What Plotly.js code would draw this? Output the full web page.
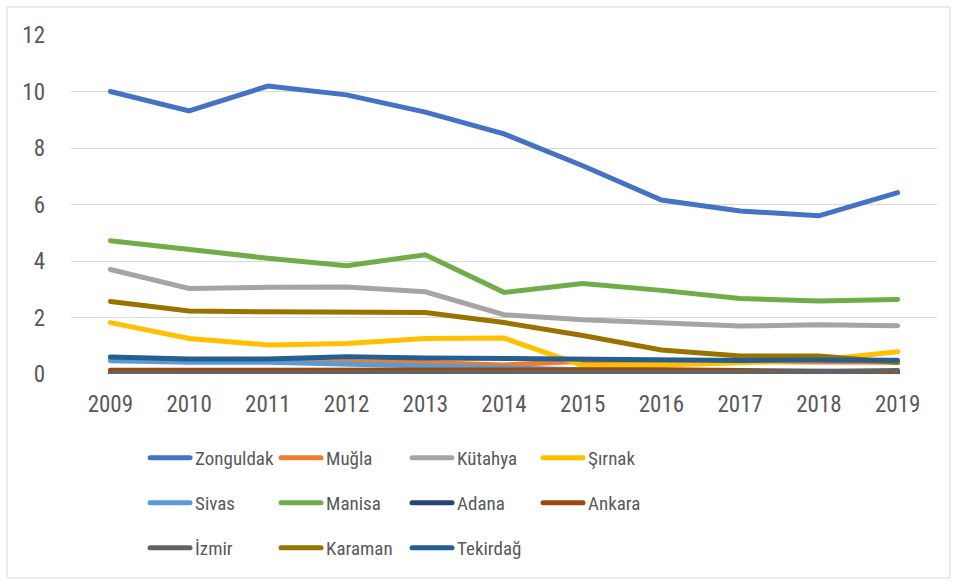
<!DOCTYPE html>
<html>
<head>
<meta charset="utf-8">
<script src="https://cdn.plot.ly/plotly-3.0.1.min.js"></script>
<style>
  html, body { margin: 0; padding: 0; background: #fff; }
  #chart { width: 956px; height: 581px; }
  .js-line { stroke-linecap: round; }
</style>
</head>
<body>
<div id="chart"></div>
<script>
const years = ["2009","2010","2011","2012","2013","2014","2015","2016","2017","2018","2019"];

const zonguldak = [10.0, 9.31, 10.19, 9.88, 9.27, 8.5, 7.37, 6.16, 5.77, 5.6, 6.42];
const mugla     = [0.5, 0.48, 0.48, 0.46, 0.41, 0.32, 0.45, 0.45, 0.45, 0.46, 0.42];
const kutahya   = [3.7, 3.03, 3.07, 3.08, 2.91, 2.1, 1.92, 1.8, 1.7, 1.74, 1.71];
const sirnak    = [1.82, 1.26, 1.03, 1.08, 1.26, 1.27, 0.3, 0.32, 0.4, 0.5, 0.79];
const sivas     = [0.47, 0.42, 0.42, 0.35, 0.28, 0.2, 0.15, 0.12, 0.1, 0.1, 0.1];
const manisa    = [4.72, 4.4, 4.1, 3.83, 4.22, 2.89, 3.2, 2.96, 2.67, 2.58, 2.64];
const adana     = [0.0, 0.0, 0.0, 0.0, 0.0, 0.01, 0.01, 0.01, 0.01, 0.0, 0.02];
const ankara    = [0.13, 0.13, 0.13, 0.13, 0.15, 0.16, 0.17, 0.15, 0.12, 0.08, 0.05];
const izmir     = [0.03, 0.03, 0.03, 0.03, 0.04, 0.05, 0.05, 0.06, 0.07, 0.08, 0.12];
const karaman   = [2.57, 2.23, 2.2, 2.18, 2.18, 1.82, 1.36, 0.85, 0.64, 0.64, 0.41];
const tekirdag  = [0.6, 0.53, 0.53, 0.61, 0.57, 0.54, 0.5, 0.47, 0.48, 0.5, 0.49];

const seriesNames = ["Zonguldak","Muğla","Kütahya","Şırnak","Sivas","Manisa","Adana","Ankara","İzmir","Karaman","Tekirdağ"];
const seriesValues = [zonguldak, mugla, kutahya, sirnak, sivas, manisa, adana, ankara, izmir, karaman, tekirdag];
const seriesColors = ["#4472C4","#ED7D31","#A5A5A5","#FFC000","#5B9BD5","#70AD47","#264478","#9E480E","#636363","#997300","#255E91"];
const legendRow = ["legend","legend","legend","legend","legend2","legend2","legend2","legend2","legend3","legend3","legend3"];

const FONT = '"Roboto Condensed", "Liberation Sans Narrow", Roboto, sans-serif';
const TXT = "#595959";

const traces = seriesNames.map((name, i) => ({
  type: "scatter",
  mode: "lines",
  name: name,
  x: years,
  y: seriesValues[i],
  line: { color: seriesColors[i], width: 5 },
  legend: legendRow[i],
  hoverinfo: "skip"
}));

const legendCommon = {
  orientation: "h",
  xanchor: "left",
  yanchor: "middle",
  x: 0.0855,
  font: { family: FONT, size: 19, color: TXT },
  itemwidth: 40,
  entrywidth: 76,
  entrywidthmode: "pixels",
  bgcolor: "rgba(0,0,0,0)",
  traceorder: "normal",
  itemclick: false
};

const layout = {
  width: 956,
  height: 581,
  margin: { l: 71, r: 19, t: 35, b: 207 },
  paper_bgcolor: "#ffffff",
  plot_bgcolor: "#ffffff",
  showlegend: true,
  font: { family: FONT, size: 19, color: TXT },
  xaxis: {
    type: "category",
    range: [-0.5, 10.5],
    showgrid: false,
    zeroline: false,
    showline: false,
    ticks: "",
    ticklabelstandoff: 14,
    tickfont: { family: FONT, size: 23, color: TXT },
    fixedrange: true
  },
  yaxis: {
    range: [0, 12],
    dtick: 2,
    tick0: 0,
    showgrid: true,
    gridcolor: "#d9d9d9",
    gridwidth: 1,
    zeroline: false,
    showline: false,
    ticks: "",
    ticklabelstandoff: 25,
    tickfont: { family: FONT, size: 23, color: TXT },
    fixedrange: true
  },
  legend:  Object.assign({}, legendCommon, { y: -0.2478 }),
  legend2: Object.assign({}, legendCommon, { y: -0.3805 }),
  legend3: Object.assign({}, legendCommon, { y: -0.5133 }),
  shapes: [{
    type: "rect", xref: "paper", yref: "paper",
    x0: -0.0739, x1: 1.015, y0: -0.6018, y1: 1.0826,
    line: { color: "#d9d9d9", width: 1 },
    fillcolor: "rgba(0,0,0,0)",
    layer: "below"
  }]
};

Plotly.newPlot("chart", traces, layout, { displayModeBar: false, staticPlot: true });
</script>
</body>
</html>
